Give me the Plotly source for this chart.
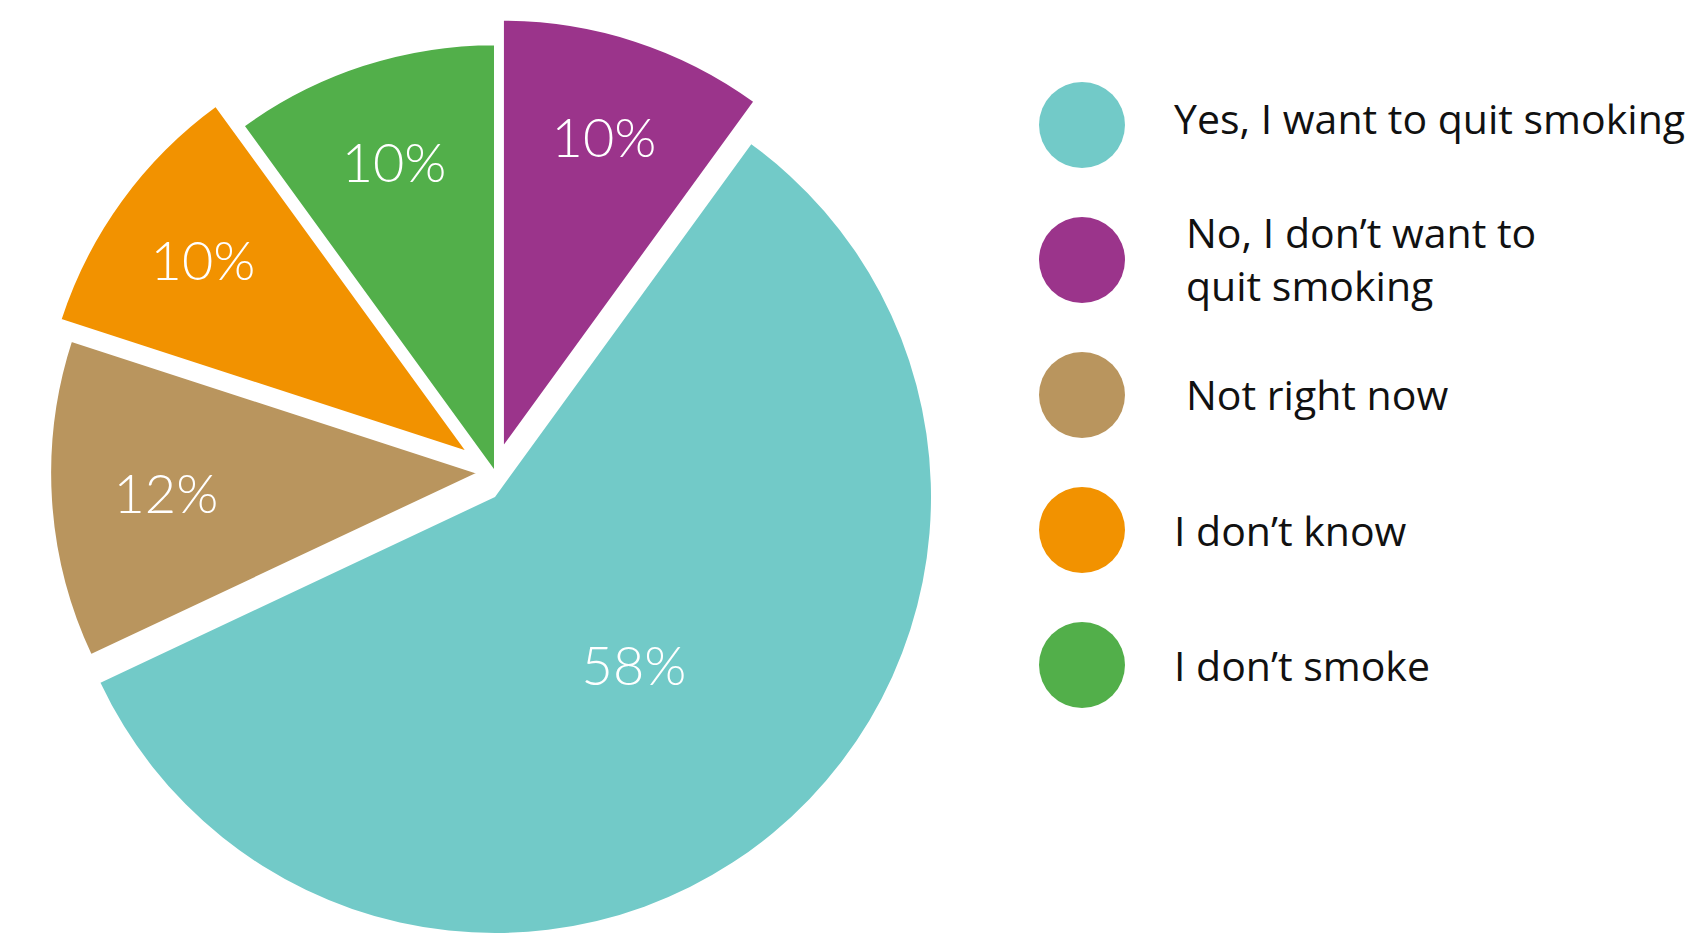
import plotly.graph_objects as go

# ---- data (clockwise from 12 o'clock) ----
labels = ["No, I don’t want to quit smoking", "Yes, I want to quit smoking",
          "Not right now", "I don’t know", "I don’t smoke"]
values = [10, 58, 12, 10, 10]
colors = ["#9B348B", "#72CAC8", "#B9955E", "#F29200", "#52AF4A"]

# legend order and display text
legend_labels = ["Yes, I want to quit smoking", "No, I don’t want to<br>quit smoking",
                 "Not right now", "I don’t know", "I don’t smoke"]
legend_colors = ["#72CAC8", "#9B348B", "#B9955E", "#F29200", "#52AF4A"]

# ---- styling ----
pulls = [0.06, 0.0, 0.04, 0.08, 0.0]
legend_indent = [0.0, 0.007, 0.007, 0.0, 0.0]
legend_nudge = [-0.05, -0.01, -0.01, 0.0, 0.0]
TRANSPARENT = "rgba(0,0,0,0)"
pct_text = [f"{v}%" for v in values]

main_idx = 1  # big slice drawn as its own un-pulled layer

fig = go.Figure()

# big slice layer
fig.add_trace(go.Pie(
    labels=labels, values=values, sort=False, direction="clockwise", rotation=0,
    marker=dict(colors=[c if i == main_idx else TRANSPARENT for i, c in enumerate(colors)],
                line=dict(color="white", width=[0] * len(values))),
    text=[t if i == main_idx else "" for i, t in enumerate(pct_text)],
    textinfo="text", textposition="inside", insidetextorientation="horizontal",
    textfont=dict(family="Lato", size=54, color="white", weight=300),
    domain=dict(x=[0, 990 / 1707], y=[1 - 933 / 934, 1 - 61 / 934]),
    showlegend=False, hoverinfo="skip",
))

# pulled slices layer
fig.add_trace(go.Pie(
    labels=labels, values=values, sort=False, direction="clockwise", rotation=0,
    pull=pulls,
    marker=dict(colors=[TRANSPARENT if i == main_idx else c for i, c in enumerate(colors)],
                line=dict(color="white", width=[0 if i == main_idx else 2 for i in range(len(values))])),
    text=["" if i == main_idx else t for i, t in enumerate(pct_text)],
    textinfo="text", textposition="inside", insidetextorientation="horizontal",
    textfont=dict(family="Lato", size=54, color="white", weight=300),
    domain=dict(x=[0, 990 / 1707], y=[0, 924 / 934]),
    showlegend=False, hoverinfo="skip",
))

# custom legend: big circle markers
idx = list(range(len(legend_labels)))
fig.add_trace(go.Scatter(
    x=[1082 / 1707] * len(idx), y=idx, mode="markers",
    marker=dict(size=86, color=legend_colors, line=dict(width=0)),
    showlegend=False, hoverinfo="skip",
))

for i, lab in enumerate(legend_labels):
    fig.add_annotation(
        x=1172 / 1707 + legend_indent[i], y=i + legend_nudge[i], xref="x", yref="y",
        text=lab, showarrow=False, xanchor="left", yanchor="middle", align="left",
        font=dict(family="Open Sans", size=41, color="#111111"),
    )

fig.update_xaxes(range=[0, 1], visible=False, fixedrange=True)
fig.update_yaxes(range=[(934 - 125) / 135, -125 / 135], visible=False, fixedrange=True)

fig.update_layout(
    width=1707, height=934,
    margin=dict(l=0, r=0, t=0, b=0),
    paper_bgcolor="white", plot_bgcolor="white",
)

fig.write_html("out.html")
